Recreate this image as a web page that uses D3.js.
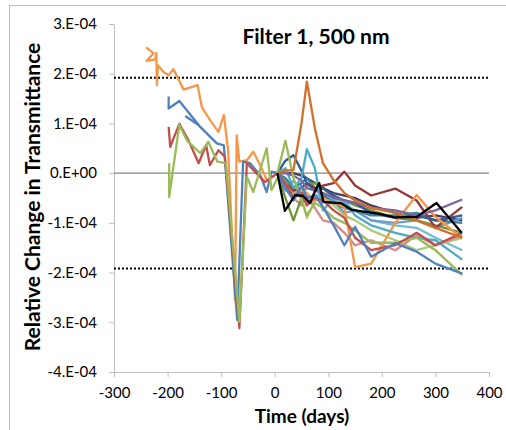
<!DOCTYPE html>
<html>
<head>
<meta charset="utf-8">
<script src="https://d3js.org/d3.v7.min.js"></script>
<style>
  body { margin: 0; background: #fff; }
  svg text { font-family: Lato, "Open Sans", sans-serif; fill: #000; }
  .axis .domain { stroke: #bfbfbf; }
  .axis line { stroke: #bfbfbf; }
  .axis text { font-size: 15px; }
  .title { font-size: 21px; font-weight: bold; }
  .axis-label { font-size: 19px; font-weight: bold; }
  .y-label { font-size: 21px; font-weight: bold; }
</style>
</head>
<body>
<svg id="chart" width="506" height="430"></svg>
<script>
// tick values
const xTicks = [-300, -200, -100, 0, 100, 200, 300, 400];
const yTicks = [3e-4, 2e-4, 1e-4, 0, -1e-4, -2e-4, -3e-4, -4e-4];
const limit = 1.92e-4;

// early runs (values in 1e-4)
const orangeEarlyDays = [-240, -226, -239, -223, -221, -220, -218, -208, -198, -189, -170, -144, -136, -121, -105, -95, -87, -74, -71, -66, -52, -40, -27, -15, 5];
const orangeEarly = [2.53, 2.41, 2.26, 2.29, 2.42, 1.77, 2.17, 2.04, 1.97, 2.09, 1.68, 1.77, 1.33, 1.07, 0.83, 1.17, 0.46, -2.56, 0.76, 0.23, 0.26, 0.43, 0.16, -0.14, 0];
const blueEarlyDays = [-198, -198, -178, -139, -108, -95, -70, -59, -46, -27, -15, -6, 7];
const blueEarly = [1.54, 1.3, 1.45, 0.93, 0.6, 0.56, -2.95, 0.23, 0.2, -0.04, -0.38, 0.03, 0];
const blue2EarlyDays = [-167, -142];
const blue2Early = [1.15, 0.97];
const redEarlyDays = [-198, -195, -178, -161, -142, -128, -121, -105, -93, -66, -52, -37, -18, 6];
const redEarly = [0.93, 0.53, 0.99, 0.66, 0.2, 0.56, 0.16, 0.46, 0.33, -3.12, 0.2, 0.03, -0.18, 0];
const greenEarlyDays = [-197, -197, -178, -164, -139, -124, -107, -91, -66, -52, -40, -15, -6, 10];
const greenEarly = [0.2, -0.48, 0.97, 0.66, 0.4, 0.63, 0.23, 0.2, -2.99, -0.07, -0.38, 0.5, -0.34, 0];

// later runs (values in 1e-4)
const lateDays = [5, 20, 35, 50, 60, 75, 90, 110, 130, 150, 180, 225, 265, 300, 350];
const runBlue      = [0, -0.3, -0.55, -0.25, -0.5, -0.45, -0.68, -1.05, -1.45, -1.08, -1.68, -1.41, -1.58, -1.82, -2.02];
const runRed       = [0, -0.2, -0.5, -0.4, -0.65, -0.5, -0.55, -0.75, -0.9, -1.3, -1.55, -1.45, -1.2, -1.45, -1.2];
const runGreen     = [0, 0.65, -0.1, -0.55, -0.85, -0.6, -0.7, -0.9, -1.0, -1.15, -1.4, -1.4, -1.3, -1.55, -2.05];
const runPurple    = [0, 0, -0.05, -0.15, -0.3, -0.35, -0.4, -0.5, -0.55, -0.6, -0.7, -0.75, -0.85, -0.75, -0.53];
const runAqua      = [0, 0.1, -0.3, -0.1, 0.48, 0.1, -0.75, -0.5, -0.55, -0.85, -1.05, -1.2, -1.3, -1.35, -1.74];
const runOrange    = [0, -0.2, -0.45, -0.3, -0.4, -0.55, -0.5, -0.6, -0.68, -1.89, -1.82, -1.0, -0.44, -0.88, -1.31];
const runDarkBlue  = [0, 0.25, 0.36, 0.05, -0.2, -0.35, -0.3, -0.45, -0.55, -0.6, -0.8, -0.9, -0.85, -0.95, -0.85];
const runDarkRed   = [0, -0.2, -0.35, -0.3, -0.2, -0.3, -0.25, -0.2, 0.03, -0.25, -0.45, -0.31, -0.55, -1.1, -0.68];
const runDarkGreen = [0, -0.5, -0.95, -0.5, -0.25, -0.2, -0.3, -0.5, -0.55, -0.65, -0.75, -0.9, -0.95, -1.05, -1.2];
const runDarkAqua  = [0, -0.1, -0.3, -0.2, -0.1, -0.3, -0.45, -0.6, -0.7, -0.75, -0.85, -0.85, -0.8, -0.95, -1.0];
const runDarkOrange= [0, 0.05, 0.06, 1.0, 1.84, 0.9, 0.2, -0.14, -0.4, -0.55, -0.7, -0.8, -0.95, -1.1, -1.3];
const runLightBlue = [0, -0.35, -0.15, -0.4, -0.6, -0.5, -0.45, -0.55, -0.8, -0.75, -0.95, -1.0, -0.95, -1.1, -0.9];
const runLightRed  = [0, -0.25, -0.5, -0.65, -0.45, -0.7, -0.95, -1.0, -1.2, -1.45, -1.35, -1.55, -1.25, -1.45, -1.25];
const runLightGreen= [0, -0.1, -0.3, -0.5, -0.9, -0.55, -0.5, -0.65, -0.85, -0.95, -1.15, -1.35, -1.55, -1.45, -1.3];
const runDarkPurple= [0, 0, 0, -0.05, -0.1, -0.2, -0.3, -0.4, -0.45, -0.5, -0.65, -0.8, -0.9, -0.85, -0.95];
const runLightAqua = [0, -0.15, -0.4, -0.3, -0.5, -0.45, -0.4, -0.55, -0.6, -0.75, -0.95, -1.05, -1.1, -1.3, -1.55];
const blackDays = [5, 19, 38, 53, 66, 72, 83, 91, 125, 144, 196, 224, 265, 302, 349];
const runBlack  = [0, -0.76, -0.44, -0.46, -0.6, -0.44, -0.2, -0.58, -0.61, -0.74, -0.82, -0.89, -0.88, -0.6, -1.2];

const allRuns = [
  {days: orangeEarlyDays, vals: orangeEarly, color: "#F79646"},
  {days: blueEarlyDays, vals: blueEarly, color: "#4F81BD"},
  {days: blue2EarlyDays, vals: blue2Early, color: "#4F81BD"},
  {days: redEarlyDays, vals: redEarly, color: "#C0504D"},
  {days: greenEarlyDays, vals: greenEarly, color: "#9BBB59"},
  {days: lateDays, vals: runLightAqua, color: "#6FBDD1"},
  {days: lateDays, vals: runDarkPurple, color: "#4D3B62"},
  {days: lateDays, vals: runLightGreen, color: "#AFC97A"},
  {days: lateDays, vals: runLightRed, color: "#D9888A"},
  {days: lateDays, vals: runLightBlue, color: "#729ACA"},
  {days: lateDays, vals: runDarkAqua, color: "#31859C"},
  {days: lateDays, vals: runDarkGreen, color: "#76923C"},
  {days: lateDays, vals: runDarkRed, color: "#953735"},
  {days: lateDays, vals: runDarkBlue, color: "#2C5C9A"},
  {days: lateDays, vals: runOrange, color: "#F79646"},
  {days: lateDays, vals: runAqua, color: "#4BACC6"},
  {days: lateDays, vals: runPurple, color: "#8064A2"},
  {days: lateDays, vals: runGreen, color: "#9BBB59"},
  {days: lateDays, vals: runRed, color: "#C0504D"},
  {days: lateDays, vals: runBlue, color: "#4F81BD"},
  {days: lateDays, vals: runDarkOrange, color: "#D0702A"},
  {days: blackDays, vals: runBlack, color: "#000000"}
];

const svg = d3.select("#chart");
const plotLeft = 114, plotRight = 489, plotTop = 24, plotBottom = 372;

// outer frame
svg.append("rect")
  .attr("x", 9.5).attr("y", 5.5)
  .attr("width", 520).attr("height", 440)
  .attr("fill", "none").attr("stroke", "#bfbfbf");

const x = d3.scaleLinear().domain([-300, 400]).range([plotLeft, plotRight]);
const y = d3.scaleLinear().domain([-4e-4, 3e-4]).range([plotBottom, plotTop]);

svg.append("g")
  .attr("class", "axis")
  .attr("transform", `translate(${plotLeft},0)`)
  .call(d3.axisLeft(y).tickValues(yTicks).tickSize(5).tickSizeOuter(0).tickPadding(12)
    .tickFormat(d => {
      const v = Math.round(d * 1e4);
      return v === 0 ? "0.E+00" : v + ".E-04";
    }));

svg.append("g")
  .attr("class", "axis")
  .attr("transform", `translate(0,${plotBottom})`)
  .call(d3.axisBottom(x).tickValues(xTicks).tickSize(5).tickSizeOuter(0).tickPadding(10)
    .tickFormat(d => String(d)));

// zero line
svg.append("line")
  .attr("x1", plotLeft).attr("x2", plotRight)
  .attr("y1", y(0)).attr("y2", y(0))
  .attr("stroke", "#868686").attr("stroke-width", 1.3);

// limits
[limit, -limit].forEach(l => {
  svg.append("line")
    .attr("x1", plotLeft).attr("x2", plotRight)
    .attr("y1", y(l)).attr("y2", y(l))
    .attr("stroke", "#000").attr("stroke-width", 2)
    .attr("stroke-dasharray", "2,2");
});

const line = d3.line().x(d => x(d[0])).y(d => y(d[1] * 1e-4));

allRuns.forEach(r => {
  svg.append("path")
    .datum(r.days.map((d, i) => [d, r.vals[i]]))
    .attr("fill", "none")
    .attr("stroke", r.color)
    .attr("stroke-width", 2.3)
    .attr("stroke-linejoin", "round")
    .attr("d", line);
});

svg.append("text").attr("class", "title")
  .attr("x", 316).attr("y", 44).attr("text-anchor", "middle")
  .text("Filter 1, 500 nm");

svg.append("text").attr("class", "axis-label")
  .attr("x", 302).attr("y", 423).attr("text-anchor", "middle")
  .text("Time (days)");

svg.append("text").attr("class", "y-label")
  .attr("transform", "translate(40,197) rotate(-90)")
  .attr("text-anchor", "middle")
  .text("Relative Change in Transmittance");
</script>
</body>
</html>
